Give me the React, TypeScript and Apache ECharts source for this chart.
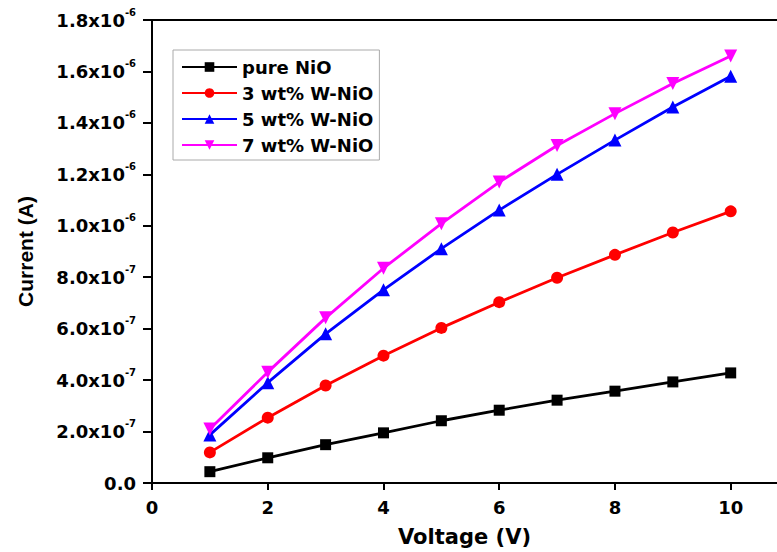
import React, { useEffect, useRef } from "react";
import * as echarts from "echarts";

// Applied voltage (V)
const voltage = [1, 2, 3, 4, 5, 6, 7, 8, 9, 10];

// Measured current (A) for each film
const pureNiO = [4.4e-8, 9.8e-8, 1.49e-7, 1.95e-7, 2.42e-7, 2.83e-7, 3.22e-7, 3.57e-7, 3.93e-7, 4.28e-7];
const w3NiO = [1.19e-7, 2.54e-7, 3.79e-7, 4.95e-7, 6.03e-7, 7.03e-7, 7.98e-7, 8.87e-7, 9.74e-7, 1.056e-6];
const w5NiO = [1.87e-7, 3.9e-7, 5.8e-7, 7.51e-7, 9.11e-7, 1.061e-6, 1.2e-6, 1.333e-6, 1.462e-6, 1.581e-6];
const w7NiO = [2.1e-7, 4.31e-7, 6.42e-7, 8.35e-7, 1.008e-6, 1.17e-6, 1.312e-6, 1.436e-6, 1.553e-6, 1.66e-6];

const seriesNames = ["pure NiO", "3 wt% W-NiO", "5 wt% W-NiO", "7 wt% W-NiO"];
const seriesColors = ["#000000", "#ff0000", "#0000ff", "#ff00ff"];

const FONT = "DejaVu Sans";
const NAME_FONT = "Liberation Sans";

function pairs(ys: number[]) {
  return voltage.map((v, i) => [v, ys[i]]);
}

function currentLabel(v: number): string {
  if (Math.abs(v) < 1e-12) return "{m|0.0}";
  const exp = v >= 1e-6 - 1e-12 ? -6 : -7;
  const mant = (Math.round((v / Math.pow(10, exp)) * 10) / 10).toFixed(1);
  return `{m|${mant}x10}{e|${exp}}`;
}

export default function App() {
  const ref = useRef<HTMLDivElement>(null);

  useEffect(() => {
    if (!ref.current) return;
    const chart = echarts.init(ref.current, undefined, { renderer: "svg" });

    const base = {
      type: "line" as const,
      xAxisIndex: 0,
      lineStyle: { width: 2.8 },
      emphasis: { disabled: true },
    };

    chart.setOption({
      animation: false,
      backgroundColor: "#ffffff",
      textStyle: { fontFamily: FONT },
      grid: {
        left: 152,
        top: 20,
        right: 0,
        height: 464,
      },
      legend: {
        orient: "vertical",
        left: 173,
        top: 50,
        padding: [8, 6, 6, 8],
        itemWidth: 55,
        itemHeight: 12,
        itemGap: 8,
        borderColor: "#aaaaaa",
        borderWidth: 1,
        backgroundColor: "#ffffff",
        textStyle: {
          fontFamily: FONT,
          fontWeight: "bold",
          fontSize: 18,
          lineHeight: 18,
          color: "#000",
        },
        data: seriesNames,
      },
      xAxis: [
        {
          type: "value",
          position: "bottom",
          min: 0,
          max: 10.8,
          interval: 2,
          name: "Voltage (V)",
          nameLocation: "middle",
          nameGap: 43,
          nameTextStyle: {
            fontFamily: FONT,
            fontWeight: "bold",
            fontSize: 21,
            color: "#000",
          },
          axisLine: { onZero: false, lineStyle: { color: "#000", width: 2 } },
          axisTick: { show: true, inside: false, length: 7, lineStyle: { color: "#000", width: 2 } },
          axisLabel: {
            margin: 15,
            fontFamily: FONT,
            fontWeight: "bold",
            fontSize: 18,
            color: "#000",
            showMaxLabel: false,
            formatter: (v: number) => (v > 10 ? "" : String(v)),
          },
          splitLine: { show: false },
        },
        {
          // top frame line
          type: "value",
          position: "top",
          min: 0,
          max: 10.8,
          axisLine: { show: true, onZero: false, lineStyle: { color: "#000", width: 2 } },
          axisTick: { show: false },
          axisLabel: { show: false },
          splitLine: { show: false },
        },
      ],
      yAxis: {
        type: "value",
        min: 0,
        max: 1.8e-6,
        interval: 2e-7,
        name: "Current (A)",
        nameLocation: "middle",
        nameGap: 116,
        nameRotate: 90,
        nameTextStyle: {
          fontFamily: NAME_FONT,
          fontWeight: "bold",
          fontSize: 21,
          color: "#000",
        },
        axisLine: { show: true, onZero: false, lineStyle: { color: "#000", width: 2 } },
        axisTick: { show: true, inside: false, length: 9, lineStyle: { color: "#000", width: 2 } },
        axisLabel: {
          margin: 16,
          color: "#000",
          formatter: currentLabel,
          rich: {
            m: { fontFamily: FONT, fontWeight: "bold", fontSize: 18, lineHeight: 26, color: "#000" },
            e: {
              fontFamily: FONT,
              fontWeight: "bold",
              fontSize: 10,
              lineHeight: 26,
              verticalAlign: "top",
              color: "#000",
            },
          },
        },
        splitLine: { show: false },
      },
      series: [
        {
          ...base,
          name: seriesNames[0],
          data: pairs(pureNiO),
          color: seriesColors[0],
          symbol: "rect",
          symbolSize: 11,
        },
        {
          ...base,
          name: seriesNames[1],
          data: pairs(w3NiO),
          color: seriesColors[1],
          symbol: "circle",
          symbolSize: 12,
        },
        {
          ...base,
          name: seriesNames[2],
          data: pairs(w5NiO),
          color: seriesColors[2],
          symbol: "triangle",
          symbolSize: 13,
        },
        {
          ...base,
          name: seriesNames[3],
          data: pairs(w7NiO),
          color: seriesColors[3],
          symbol: "triangle",
          symbolRotate: 180,
          symbolSize: 13,
        },
      ],
    });

    return () => chart.dispose();
  }, []);

  return (
    <div
      ref={ref}
      style={{ position: "fixed", left: 0, top: 0, width: 777, height: 552, background: "#fff" }}
    />
  );
}
